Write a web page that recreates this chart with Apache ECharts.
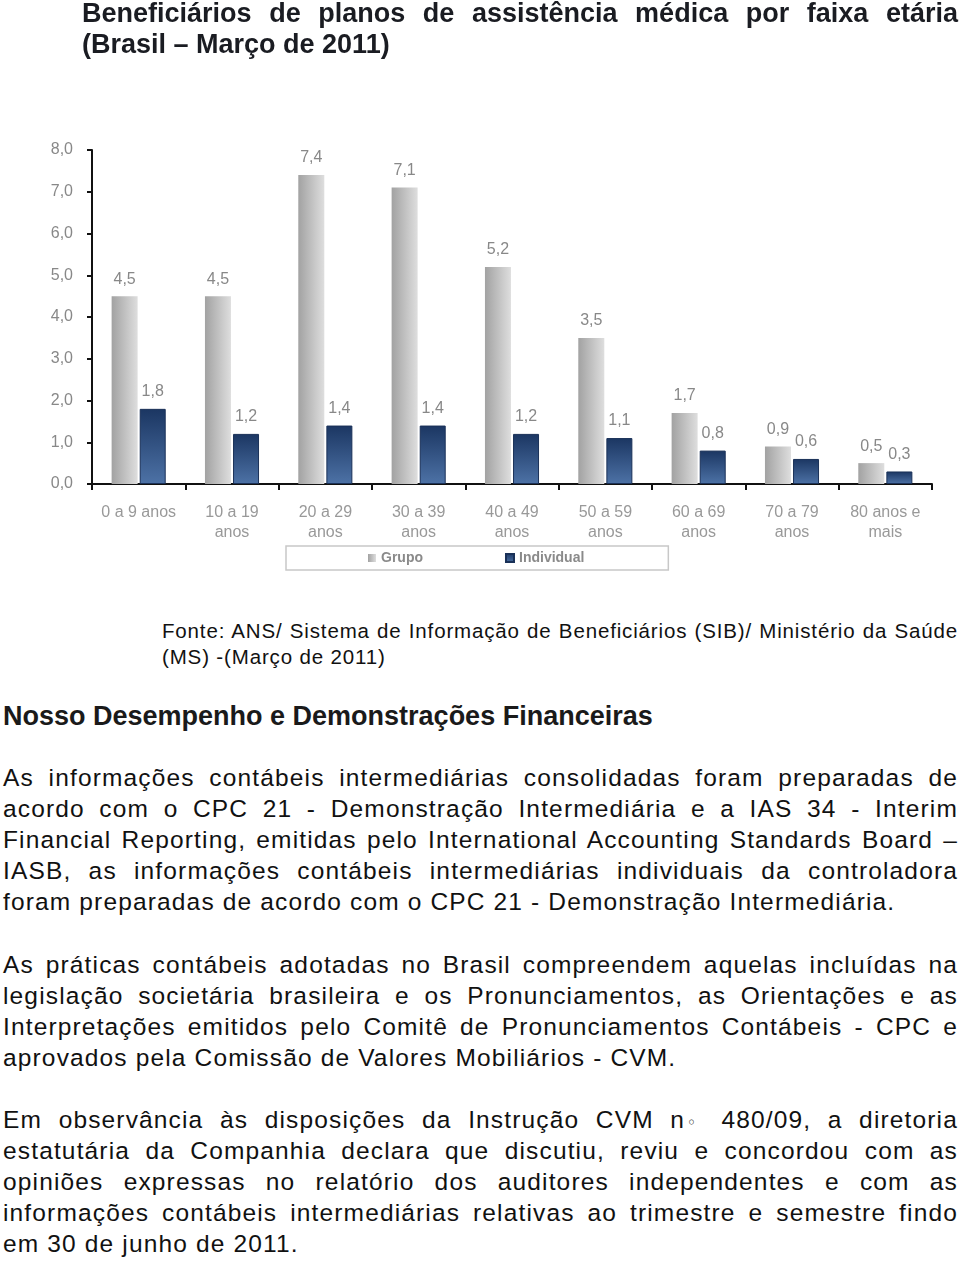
<!DOCTYPE html>
<html>
<head>
<meta charset="utf-8">
<script src="https://cdn.jsdelivr.net/npm/echarts@6/dist/echarts.min.js"></script>
<style>
  html, body { margin: 0; padding: 0; background: #fff; width: 960px; height: 1262px; overflow: hidden; }
  #chart { position: absolute; left: 0; top: 0; width: 960px; height: 600px; }
  .blk { position: absolute; white-space: nowrap; }
  .blk div { white-space: nowrap; }
  .j { text-align: justify; text-align-last: justify; }
  .l { text-align: left; }
  .title { left: 82px; width: 876px; top: -2px; font: bold 27px "Liberation Sans", Arial, sans-serif; line-height: 31px; color: #1a1c22; }
  .src { left: 162px; width: 796px; top: 618px; font: 20.5px "Liberation Sans", Arial, sans-serif; letter-spacing: 0.85px; line-height: 26px; color: #111; }
  .head { left: 3px; top: 701px; font: bold 27px "Liberation Sans", Arial, sans-serif; line-height: 31px; color: #1a1a1a; }
  .para { left: 3px; width: 955px; font: 24.5px "Liberation Sans", Arial, sans-serif; letter-spacing: 1.15px; line-height: 31px; color: #111; }
  .para div { height: 31px; }
  .deg { font-family: "DejaVu Sans", sans-serif; font-size: 16px; line-height: 0; letter-spacing: 0; margin-left: -7px; }
</style>
</head>
<body>
<div id="chart"></div>

<div class="blk title">
  <div class="j">Beneficiários de planos de assistência médica por faixa etária</div>
  <div class="l">(Brasil – Março de 2011)</div>
</div>

<div class="blk src">
  <div class="j">Fonte: ANS/ Sistema de Informação de Beneficiários (SIB)/ Ministério da Saúde</div>
  <div class="l">(MS) -(Março de 2011)</div>
</div>

<div class="blk head">Nosso Desempenho e Demonstrações Financeiras</div>

<div class="blk para" style="top:762px">
  <div class="j">As informações contábeis intermediárias consolidadas foram preparadas de</div>
  <div class="j">acordo com o CPC 21 - Demonstração Intermediária e a IAS 34 - Interim</div>
  <div class="j">Financial Reporting, emitidas pelo International Accounting Standards Board –</div>
  <div class="j">IASB, as informações contábeis intermediárias individuais da controladora</div>
  <div class="l">foram preparadas de acordo com o CPC 21 - Demonstração Intermediária.</div>
</div>

<div class="blk para" style="top:949px">
  <div class="j">As práticas contábeis adotadas no Brasil compreendem aquelas incluídas na</div>
  <div class="j">legislação societária brasileira e os Pronunciamentos, as Orientações e as</div>
  <div class="j">Interpretações emitidos pelo Comitê de Pronunciamentos Contábeis - CPC e</div>
  <div class="l">aprovados pela Comissão de Valores Mobiliários - CVM.</div>
</div>

<div class="blk para" style="top:1104px">
  <div class="j">Em observância às disposições da Instrução CVM n<span class="deg">◦</span> 480/09, a diretoria</div>
  <div class="j">estatutária da Companhia declara que discutiu, reviu e concordou com as</div>
  <div class="j">opiniões expressas no relatório dos auditores independentes e com as</div>
  <div class="j">informações contábeis intermediárias relativas ao trimestre e semestre findo</div>
  <div class="l">em 30 de junho de 2011.</div>
</div>

<script>
// ---- data ----
const categories = ['0 a 9 anos', '10 a 19\nanos', '20 a 29\nanos', '30 a 39\nanos', '40 a 49\nanos',
                    '50 a 59\nanos', '60 a 69\nanos', '70 a 79\nanos', '80 anos e\nmais'];
const grupo      = [4.5, 4.5, 7.4, 7.1, 5.2, 3.5, 1.7, 0.9, 0.5];
const individual = [1.8, 1.2, 1.4, 1.4, 1.2, 1.1, 0.8, 0.6, 0.3];
const seriesNames = ['Grupo', 'Individual'];
const yMin = 0, yMax = 8, yStep = 1;

const fmt = v => Number(v).toFixed(1).replace('.', ',');
const FONT = '"Liberation Sans", Arial, sans-serif';

const chart = echarts.init(document.getElementById('chart'), null, { renderer: 'canvas' });
chart.setOption({
  animation: false,
  backgroundColor: 'transparent',
  textStyle: { fontFamily: FONT },
  grid: { left: 92, top: 150, width: 840, height: 334, containLabel: false },
  legend: {
    data: seriesNames,
    left: 286, top: 546,
    orient: 'horizontal',
    itemWidth: 8, itemHeight: 8, itemGap: 82,
    padding: [5, 84, 5, 82],
    borderColor: '#c8c8c8', borderWidth: 1.5,
    icon: 'rect',
    textStyle: { color: '#8a8a8a', fontSize: 14, fontFamily: FONT, fontWeight: 'bold' }
  },
  xAxis: {
    type: 'category',
    data: categories,
    axisLine: { lineStyle: { color: '#111', width: 2 } },
    axisTick: { show: true, length: 6, lineStyle: { color: '#111', width: 2 }, alignWithLabel: false },
    axisLabel: { interval: 0, color: '#999', fontSize: 16, lineHeight: 20, margin: 19, fontFamily: FONT }
  },
  yAxis: {
    type: 'value',
    min: yMin, max: yMax, interval: yStep,
    splitLine: { show: false },
    axisLine: { show: true, lineStyle: { color: '#111', width: 2 } },
    axisTick: { show: true, length: 5, lineStyle: { color: '#111', width: 2 } },
    axisLabel: { color: '#888', fontSize: 16, margin: 19, formatter: v => fmt(v), fontFamily: FONT }
  },
  series: [
    {
      name: seriesNames[0], type: 'bar', data: grupo,
      barWidth: 26, barGap: '8%',
      itemStyle: {
        color: new echarts.graphic.LinearGradient(0, 0, 1, 0, [
          { offset: 0, color: '#a2a2a2' }, { offset: 1, color: '#dedede' }
        ])
      },
      label: { show: true, position: 'top', distance: 9, color: '#888', fontSize: 16, fontFamily: FONT,
               formatter: p => fmt(p.value) }
    },
    {
      name: seriesNames[1], type: 'bar', data: individual,
      barWidth: 26,
      itemStyle: {
        color: new echarts.graphic.LinearGradient(0, 0, 0, 1, [
          { offset: 0, color: '#1b3662' }, { offset: 1, color: '#4d72a6' }
        ]),
        borderColor: '#1a3158', borderWidth: 1
      },
      label: { show: true, position: 'top', distance: 9, color: '#888', fontSize: 16, fontFamily: FONT,
               formatter: p => fmt(p.value) }
    }
  ]
});
</script>
</body>
</html>
